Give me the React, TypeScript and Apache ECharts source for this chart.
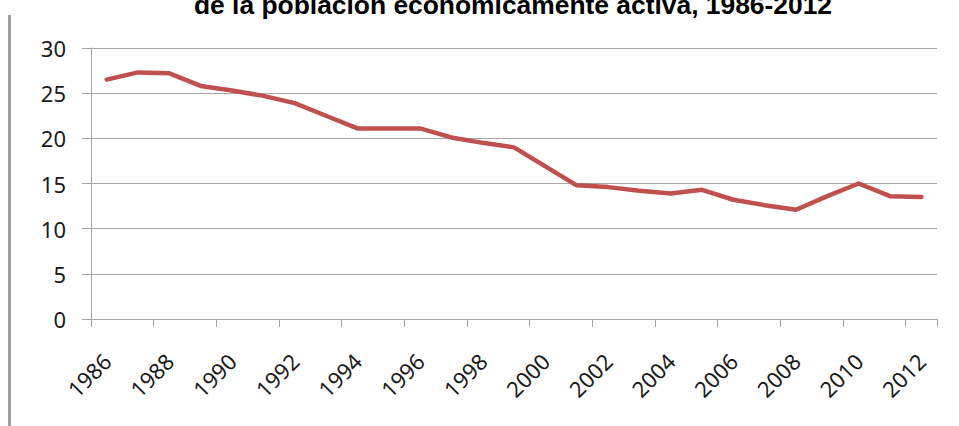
import React, { useEffect, useRef } from "react";
import * as echarts from "echarts";

const years: string[] = [
  "1986", "1987", "1988", "1989", "1990", "1991", "1992", "1993", "1994",
  "1995", "1996", "1997", "1998", "1999", "2000", "2001", "2002", "2003",
  "2004", "2005", "2006", "2007", "2008", "2009", "2010", "2011", "2012",
];
const values: number[] = [
  26.5, 27.3, 27.2, 25.8, 25.3, 24.7, 23.9, 22.5, 21.1,
  21.1, 21.1, 20.1, 19.5, 19.0, 16.9, 14.8, 14.6, 14.2,
  13.9, 14.3, 13.2, 12.6, 12.1, 13.6, 15.0, 13.6, 13.5,
];
const titleText = "de la población económicamente activa, 1986-2012";

export default function App() {
  const ref = useRef<HTMLDivElement>(null);
  useEffect(() => {
    document.body.style.margin = "0";
    if (!ref.current) return;
    const chart = echarts.init(ref.current, undefined, { renderer: "svg" });
    const gray = "#A6A6A6";
    const font = "'Noto Sans', sans-serif";
    chart.setOption({
      animation: false,
      backgroundColor: "#ffffff",
      grid: { left: 91, right: 22, top: 48, bottom: 107, containLabel: false },
      xAxis: {
        type: "category",
        data: years,
        boundaryGap: true,
        axisLine: { show: true, lineStyle: { color: gray, width: 1 } },
        axisTick: { show: true, interval: 1, length: 8, lineStyle: { color: gray } },
        axisLabel: {
          interval: 1,
          rotate: 45,
          fontSize: 22,
          fontFamily: font,
          color: "#1a1a1a",
          margin: 38,
        },
        splitLine: { show: false },
      },
      yAxis: {
        type: "value",
        min: 0,
        max: 30,
        interval: 5,
        axisLine: { show: true, lineStyle: { color: gray, width: 1 } },
        axisTick: { show: true, length: 9, lineStyle: { color: gray } },
        axisLabel: { fontSize: 22, fontFamily: font, color: "#1a1a1a", margin: 25 },
        splitLine: { show: true, lineStyle: { color: gray, width: 1 } },
      },
      series: [
        {
          type: "line",
          data: values,
          symbol: "none",
          lineStyle: { color: "#C0504D", width: 4.5, cap: "round", join: "round" },
        },
      ],
      graphic: [
        {
          type: "text",
          x: 513,
          y: -8,
          style: {
            text: titleText,
            font: "bold 26.4px 'Liberation Sans', Arial, sans-serif",
            fill: "#000",
            textAlign: "center",
            textVerticalAlign: "top",
          },
        },
        {
          type: "line",
          shape: { x1: 9.5, y1: 15, x2: 9.5, y2: 426 },
          style: { stroke: "#A0A0A0", lineWidth: 3 },
        },
      ],
    });
    return () => chart.dispose();
  }, []);
  return <div ref={ref} style={{ width: 959, height: 426 }} />;
}
